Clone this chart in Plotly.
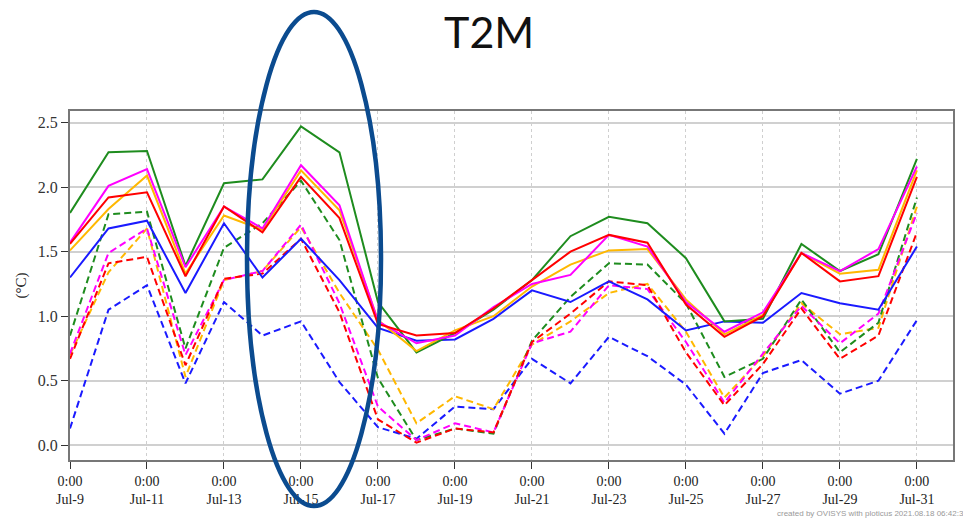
import plotly.graph_objects as go
import pandas as pd

# ---------------- data ----------------
dates = pd.date_range("2021-07-09", "2021-07-31", freq="D")

green_solid = [1.80, 2.27, 2.28, 1.39, 2.03, 2.06, 2.47, 2.27, 1.11, 0.72, 0.87, 1.05, 1.28, 1.62, 1.77, 1.72, 1.45, 0.96, 0.98, 1.56, 1.35, 1.48, 2.22]
magenta_solid = [1.57, 2.01, 2.14, 1.38, 1.85, 1.68, 2.17, 1.86, 0.96, 0.79, 0.85, 1.07, 1.25, 1.32, 1.63, 1.54, 1.11, 0.88, 1.03, 1.49, 1.35, 1.52, 2.16]
red_solid = [1.56, 1.92, 1.96, 1.31, 1.85, 1.65, 2.08, 1.76, 0.94, 0.85, 0.87, 1.06, 1.28, 1.50, 1.63, 1.57, 1.09, 0.84, 1.00, 1.49, 1.27, 1.31, 2.08]
orange_solid = [1.51, 1.83, 2.09, 1.33, 1.78, 1.67, 2.13, 1.82, 0.97, 0.73, 0.89, 1.00, 1.23, 1.40, 1.51, 1.52, 1.13, 0.86, 1.01, 1.49, 1.33, 1.36, 2.13]
blue_solid = [1.30, 1.68, 1.74, 1.18, 1.72, 1.30, 1.60, 1.28, 0.91, 0.81, 0.82, 0.98, 1.20, 1.11, 1.27, 1.13, 0.89, 0.96, 0.95, 1.18, 1.10, 1.05, 1.54]

green_dashed = [0.85, 1.79, 1.81, 0.75, 1.53, 1.72, 2.05, 1.59, 0.52, 0.04, 0.13, 0.09, 0.81, 1.15, 1.41, 1.40, 1.10, 0.53, 0.67, 1.13, 0.72, 0.95, 1.92]
magenta_dashed = [0.71, 1.49, 1.68, 0.70, 1.28, 1.35, 1.71, 1.10, 0.30, 0.04, 0.17, 0.10, 0.79, 0.88, 1.24, 1.21, 0.80, 0.33, 0.71, 1.08, 0.79, 1.02, 1.80]
red_dashed = [0.67, 1.41, 1.46, 0.62, 1.29, 1.33, 1.60, 1.03, 0.20, 0.02, 0.13, 0.10, 0.80, 1.02, 1.27, 1.24, 0.72, 0.31, 0.63, 1.06, 0.67, 0.85, 1.65]
orange_dashed = [0.70, 1.34, 1.68, 0.53, 1.28, 1.35, 1.69, 1.18, 0.74, 0.17, 0.38, 0.28, 0.78, 0.96, 1.18, 1.25, 0.88, 0.37, 0.69, 1.10, 0.86, 0.91, 1.85]
blue_dashed = [0.13, 1.05, 1.24, 0.48, 1.11, 0.85, 0.96, 0.49, 0.14, 0.05, 0.30, 0.28, 0.67, 0.48, 0.84, 0.69, 0.47, 0.09, 0.56, 0.66, 0.40, 0.50, 0.97]

tick_dates = pd.date_range("2021-07-09", "2021-07-31", freq="2D")
tick_labels = ["0:00<br>Jul-9", "0:00<br>Jul-11", "0:00<br>Jul-13", "0:00<br>Jul-15",
               "0:00<br>Jul-17", "0:00<br>Jul-19", "0:00<br>Jul-21", "0:00<br>Jul-23",
               "0:00<br>Jul-25", "0:00<br>Jul-27", "0:00<br>Jul-29", "0:00<br>Jul-31"]
y_ticks = [0.0, 0.5, 1.0, 1.5, 2.0, 2.5]

# ---------------- styles ----------------
GREEN = "#1e8c1e"
MAGENTA = "#ff00ff"
RED = "#ff0000"
ORANGE = "#ffb800"
BLUE = "#1a1aff"
DASH = "7px,4px"

fig = go.Figure()

dashed = [
    (blue_dashed, BLUE), (orange_dashed, ORANGE), (green_dashed, GREEN),
    (magenta_dashed, MAGENTA), (red_dashed, RED),
]
solid = [
    (blue_solid, BLUE), (green_solid, GREEN), (orange_solid, ORANGE),
    (magenta_solid, MAGENTA), (red_solid, RED),
]
for vals, col in dashed:
    fig.add_trace(go.Scatter(x=dates, y=vals, mode="lines",
                             line=dict(color=col, width=2, dash=DASH),
                             showlegend=False, hoverinfo="skip"))
for vals, col in solid:
    fig.add_trace(go.Scatter(x=dates, y=vals, mode="lines",
                             line=dict(color=col, width=2),
                             showlegend=False, hoverinfo="skip"))

# page body has an 8px default margin -> compensate so that page pixels match
OFF = 8
W, H = 971 - OFF, 522 - OFF
L = 70 - OFF
T = 111 - OFF
R = W - (953 - OFF)
B = H - (460 - OFF)
pw, ph = W - L - R, H - T - B

def px_x(p):  # page pixel -> paper
    return (p - OFF - L) / pw

def px_y(p):
    return (H - B - (p - OFF)) / ph

fig.update_layout(
    width=W, height=H,
    margin=dict(l=L, r=R, t=T, b=B, autoexpand=False),
    paper_bgcolor="white", plot_bgcolor="white",
    font=dict(family="Liberation Serif", size=14, color="#222"),
    xaxis=dict(
        type="date", automargin=False,
        range=["2021-07-09 00:00", "2021-07-31 22:30"],
        tickvals=tick_dates, ticktext=tick_labels,
        ticks="outside", ticklen=7, tickcolor="#333", tickwidth=1,
        showgrid=True, gridcolor="#cfcfcf", griddash="dot", gridwidth=1,
        showline=True, linecolor="#777", linewidth=2, mirror=True,
        tickfont=dict(family="Liberation Serif", size=14, color="#222"),
        zeroline=False,
    ),
    yaxis=dict(
        automargin=False,
        range=[-0.114, 2.59],
        tickvals=y_ticks, tickformat=".1f",
        ticks="outside", ticklen=7, tickcolor="#333",
        showgrid=True, gridcolor="#d0d0d0", gridwidth=1.5,
        showline=True, linecolor="#777", linewidth=2, mirror=True,
        tickfont=dict(family="Liberation Serif", size=16, color="#333"),
        title=dict(text="(°C)", font=dict(family="Liberation Serif", size=15, color="#222"), standoff=8),
        zeroline=False,
    ),
    shapes=[
        dict(type="circle", xref="paper", yref="paper",
             x0=px_x(247), x1=px_x(381), y0=px_y(506), y1=px_y(12),
             line=dict(color="#0b4b8f", width=4.5), layer="above"),
    ],
    annotations=[
        dict(text="T2M", xref="paper", yref="paper", x=px_x(489), y=px_y(31),
             xanchor="center", yanchor="middle", showarrow=False,
             font=dict(family="Lato", size=43, color="#111")),
        dict(text="created by OVISYS with ploticus 2021.08.18 06:42:38", xref="paper", yref="paper",
             x=px_x(970), y=px_y(514), xanchor="right", yanchor="middle", showarrow=False,
             font=dict(family="Liberation Sans Narrow, Liberation Sans", size=8, color="#999")),
    ],
)

fig.write_html("out.html")
